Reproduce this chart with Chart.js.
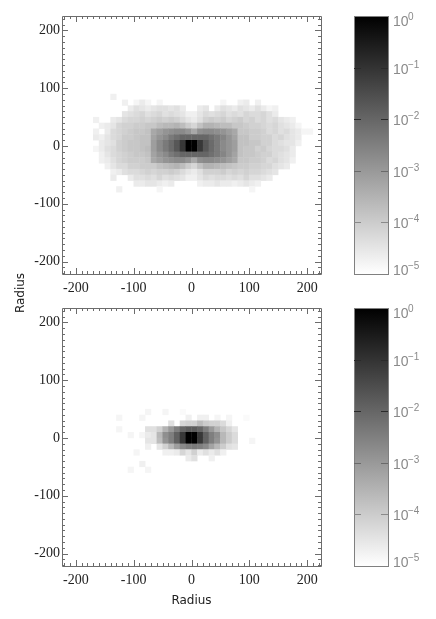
<!DOCTYPE html>
<html>
<head>
<meta charset="utf-8">
<script src="https://cdn.jsdelivr.net/npm/chart.js@4"></script>
<style>
    html, body { margin: 0; padding: 0; background: #fff; width: 436px; height: 619px; overflow: hidden; }
    canvas { position: absolute; }
    #y-title { position: absolute; left: -5px; top: 286px; width: 50px; text-align: center; transform: rotate(-90deg);
        font: 12px "DejaVu Sans", sans-serif; color: #222; }
</style>
</head>
<body>
<canvas id="top-map" style="left:0;top:0" width="345" height="300"></canvas>
<canvas id="top-bar" style="left:345px;top:0" width="91" height="300"></canvas>
<canvas id="bottom-map" style="left:0;top:292px" width="345" height="327"></canvas>
<canvas id="bottom-bar" style="left:345px;top:292px" width="91" height="300"></canvas>
<div id="y-title">Radius</div>
<script>
const _ = null;
const binSize = 10;
const xAxisRange = [-224, 224];
const yAxisRange = [-221.5, 225];
const colorLevels = [1, 0.1, 0.01, 0.001, 0.0001, 0.00001];
const colorExponents = ['0', '\u22121', '\u22122', '\u22123', '\u22124', '\u22125'];
const colorTickShades = ['#000', '#2a2a2a', '#2a2a2a', '#6a6a6a', '#8a8a8a', '#888'];

// cell values are -10*log10(density), 0 is the peak, 50 is 1e-5
const topXBins = [-170,-160,-150,-140,-130,-120,-110,-100,-90,-80,-70,-60,-50,-40,-30,-20,-10,0,10,20,30,40,50,60,70,80,90,100,110,120,130,140,150,160,170,180,190,200];
const topYBins = [80,70,60,50,40,30,20,10,0,-10,-20,-30,-40,-50,-60,-70,-80];
const topCells = [
    [_,_,_,47,_,_,_,_,_,_,_,_,_,_,_,_,_,_,_,_,_,_,_,_,_,_,_,_,_,_,_,_,_,_,_,_,_,_],
    [_,_,_,_,_,47,_,48,46,48,_,48,_,_,_,_,_,_,_,_,_,_,48,_,_,47,46,_,47,_,_,_,_,_,_,_,_,_],
    [_,_,_,_,_,_,46,44,45,46,45,44,44,45,44,46,_,_,46,45,_,46,44,45,46,44,45,46,44,46,48,47,_,_,_,_,_,_],
    [_,_,_,_,_,45,44,43,42,44,43,42,44,43,44,45,47,47,45,43,44,43,42,44,43,44,42,43,43,42,44,46,_,_,_,_,_,_],
    [47,_,_,46,45,43,42,42,41,42,41,40,41,40,41,43,45,46,44,41,40,41,40,42,41,40,42,41,43,42,44,43,45,46,47,_,_,_],
    [_,47,46,45,42,41,41,40,40,39,39,37,36,36,35,37,40,42,38,35,35,36,37,37,39,39,40,41,41,42,43,42,44,45,46,48,_,_],
    [47,_,46,43,42,41,40,39,39,38,33,31,29,28,27,27,29,33,28,27,27,28,29,31,33,39,39,40,40,41,43,42,44,43,45,46,48,48],
    [46,47,45,43,42,40,40,39,38,38,32,29,27,24,22,20,20,20,20,20,22,24,26,29,32,38,38,40,40,41,41,43,42,44,45,46,_,_],
    [_,46,45,44,41,40,39,39,38,38,31,27,24,21,17,11,0,0,11,17,21,24,27,29,31,38,38,39,39,41,41,43,44,45,45,47,_,_],
    [48,46,44,43,41,40,39,39,38,37,31,27,24,21,17,11,0,0,11,17,21,24,27,29,31,38,39,39,41,40,42,43,43,44,46,_,_,_],
    [_,47,45,43,42,41,40,39,39,38,32,29,27,24,22,20,20,20,20,20,22,24,26,29,32,38,39,39,40,41,41,43,44,45,46,_,_,_],
    [_,47,46,44,42,41,40,40,40,39,33,31,29,28,27,27,29,33,28,27,27,28,29,31,33,39,39,40,40,41,43,42,44,45,47,_,_,_],
    [_,_,47,45,43,43,41,41,40,40,40,38,37,36,35,37,40,42,38,35,35,36,37,38,39,40,40,41,41,42,42,44,45,46,_,_,_,_],
    [_,_,_,47,46,44,43,43,42,41,42,41,41,40,41,43,45,46,44,41,41,41,40,42,41,42,41,42,42,43,44,45,_,_,_,_,_,_],
    [_,_,_,46,_,_,46,44,44,43,44,42,44,43,44,45,47,47,45,43,44,43,43,44,43,44,42,44,44,45,46,_,_,_,_,_,_,_],
    [_,_,_,_,_,_,_,46,46,45,45,46,47,46,_,_,_,_,47,46,46,45,46,46,47,46,45,46,47,_,_,_,_,_,_,_,_,_],
    [_,_,_,_,47,_,_,_,_,_,_,48,_,_,_,_,_,_,_,_,_,_,_,_,_,_,_,48,_,_,_,_,_,_,_,_,_,_]
];

const bottomXBins = [-140,-130,-120,-110,-100,-90,-80,-70,-60,-50,-40,-30,-20,-10,0,10,20,30,40,50,60,70,80,90,100,110];
const bottomYBins = [40,30,20,10,0,-10,-20,-30,-40,-50,-60];
const bottomCells = [
    [_,_,_,_,_,_,48,_,_,48,_,_,49,_,_,_,_,_,_,_,_,_,_,_,_,_],
    [_,48,_,_,_,48,_,_,_,_,_,_,_,47,_,47,47,_,48,_,48,_,_,49,_,_],
    [_,_,_,_,_,_,_,_,_,_,44,_,42,41,41,37,40,41,41,43,47,_,_,_,_,_],
    [_,48,_,_,_,_,44,44,41,35,30,25,20,18,18,20,25,30,35,39,42,45,_,_,_,_],
    [_,_,_,48,_,48,46,45,36,28,25,19,11,0,0,11,19,25,28,36,40,43,_,_,_,_],
    [_,_,_,_,_,_,45,45,37,29,25,19,11,0,0,11,19,25,29,36,40,43,_,_,48,_],
    [_,_,_,_,_,_,47,_,45,41,36,31,27,25,24,25,27,32,36,40,44,45,_,_,_,_],
    [_,_,_,_,48,_,_,_,_,47,47,46,42,45,41,46,44,46,44,47,_,_,_,_,_,_],
    [_,_,_,_,_,_,_,_,_,_,_,_,_,46,44,_,_,47,_,_,_,_,_,_,_,_],
    [_,_,_,_,_,47,_,_,_,_,_,_,_,_,_,_,_,_,_,_,_,_,_,_,_,_],
    [_,_,_,48,_,_,48,_,_,_,_,_,_,_,_,_,_,_,_,_,_,_,_,_,_,_]
];

function buildPoints(xBins, yBins, cells) {
    const points = [];
    yBins.forEach((yb, r) => {
        xBins.forEach((xb, c) => {
            if (cells[r][c] !== null) {
                points.push({x: xb + binSize / 2, y: yb + binSize / 2, depth: cells[r][c]});
            }
        });
    });
    return points;
}

// box with inward ticks on all four sides
const frameTicks = {
    id: 'frameTicks',
    afterDraw(chart) {
        const {ctx, chartArea: a, scales: {x, y}} = chart;
        ctx.save();
        ctx.strokeStyle = '#6c6c6c';
        ctx.lineWidth = 1;
        ctx.beginPath();
        ctx.rect(a.left + 0.5, a.top + 0.5, a.right - a.left, a.bottom - a.top);
        for (let v = -220; v <= 220; v += binSize) {
            const len = v % 100 === 0 ? 6 : 3;
            const px = Math.round(x.getPixelForValue(v)) + 0.5;
            const py = Math.round(y.getPixelForValue(v)) + 0.5;
            ctx.moveTo(px, a.top); ctx.lineTo(px, a.top + len);
            ctx.moveTo(px, a.bottom); ctx.lineTo(px, a.bottom - len);
            ctx.moveTo(a.left, py); ctx.lineTo(a.left + len, py);
            ctx.moveTo(a.right, py); ctx.lineTo(a.right - len, py);
        }
        ctx.stroke();
        ctx.restore();
    }
};

function drawMap(id, xBins, yBins, cells, withTitle) {
    new Chart(document.getElementById(id), {
        type: 'scatter',
        data: {
            datasets: [{
                data: buildPoints(xBins, yBins, cells),
                pointStyle: 'rect',
                borderWidth: 0,
                radius: c => (c.chart.scales.x.getPixelForValue(binSize) - c.chart.scales.x.getPixelForValue(0)) / Math.SQRT2 + 0.3,
                hoverRadius: 4,
                backgroundColor: c => {
                    const g = Math.round(c.raw.depth * 5.1);
                    return 'rgb(' + g + ',' + g + ',' + g + ')';
                }
            }]
        },
        options: {
            responsive: false,
            animation: false,
            events: [],
            layout: {padding: {top: 16, right: 24}},
            plugins: {legend: {display: false}, tooltip: {enabled: false}},
            scales: {
                x: {
                    type: 'linear',
                    min: xAxisRange[0],
                    max: xAxisRange[1],
                    grid: {display: false, drawTicks: false},
                    border: {display: false},
                    title: {display: withTitle, text: 'Radius', color: '#222', padding: {top: 0, bottom: 11},
                        font: {family: '"DejaVu Sans", sans-serif', size: 12}},
                    ticks: {stepSize: 100, includeBounds: false, maxRotation: 0, autoSkip: false, padding: 6, color: '#222',
                        font: {family: '"Liberation Serif", serif', size: 14}},
                    afterFit: s => { s.height = withTitle ? 53 : 26; }
                },
                y: {
                    type: 'linear',
                    min: yAxisRange[0],
                    max: yAxisRange[1],
                    grid: {display: false, drawTicks: false},
                    border: {display: false},
                    ticks: {stepSize: 100, includeBounds: false, autoSkip: false, padding: 2, color: '#222',
                        font: {family: '"Liberation Serif", serif', size: 14}},
                    afterFit: s => { s.width = 62; }
                }
            }
        },
        plugins: [frameTicks]
    });
}

const colorFrame = {
    id: 'colorFrame',
    afterDraw(chart) {
        const {ctx, chartArea: a, scales: {y}} = chart;
        ctx.save();
        ctx.strokeStyle = '#808080';
        ctx.lineWidth = 1;
        ctx.strokeRect(a.left + 0.5, a.top + 0.5, a.right - a.left, a.bottom - a.top);
        colorLevels.forEach((v, i) => {
            if (i === 0 || i === colorLevels.length - 1) return;
            const py = Math.round(y.getPixelForValue(v)) + 0.5;
            ctx.strokeStyle = colorTickShades[i];
            ctx.beginPath();
            ctx.moveTo(a.left, py); ctx.lineTo(a.left + 7, py);
            ctx.moveTo(a.right, py); ctx.lineTo(a.right - 7, py);
            ctx.stroke();
        });
        ctx.fillStyle = '#8a8a8a';
        ctx.textBaseline = 'alphabetic';
        colorLevels.forEach((v, i) => {
            let base = y.getPixelForValue(v) + 6;
            if (i === 0) base = a.top + 10;
            if (i === colorLevels.length - 1) base = a.bottom + 1;
            ctx.font = '14px "Liberation Sans", sans-serif';
            ctx.fillText('10', a.right + 5, base);
            ctx.font = '10px "Liberation Sans", sans-serif';
            ctx.fillText(colorExponents[i], a.right + 20, base - 6);
        });
        ctx.restore();
    }
};

function drawColorBar(id) {
    new Chart(document.getElementById(id), {
        type: 'bar',
        data: {
            labels: ['density'],
            datasets: [{
                data: [[colorLevels[5], colorLevels[0]]],
                barPercentage: 1,
                categoryPercentage: 1,
                backgroundColor: c => {
                    const a = c.chart.chartArea;
                    if (!a) return '#888';
                    const grad = c.chart.ctx.createLinearGradient(0, a.top, 0, a.bottom);
                    grad.addColorStop(0, '#000');
                    grad.addColorStop(1, '#fff');
                    return grad;
                }
            }]
        },
        options: {
            responsive: false,
            animation: false,
            events: [],
            layout: {padding: {top: 16, left: 9, bottom: 26}},
            plugins: {legend: {display: false}, tooltip: {enabled: false}},
            scales: {
                x: {display: false},
                y: {
                    type: 'logarithmic',
                    position: 'right',
                    min: colorLevels[5],
                    max: colorLevels[0],
                    grid: {display: false},
                    border: {display: false},
                    ticks: {display: false},
                    afterFit: s => { s.width = 48; }
                }
            }
        },
        plugins: [colorFrame]
    });
}

drawMap('top-map', topXBins, topYBins, topCells, false);
drawColorBar('top-bar');
drawMap('bottom-map', bottomXBins, bottomYBins, bottomCells, true);
drawColorBar('bottom-bar');
</script>
</body>
</html>
